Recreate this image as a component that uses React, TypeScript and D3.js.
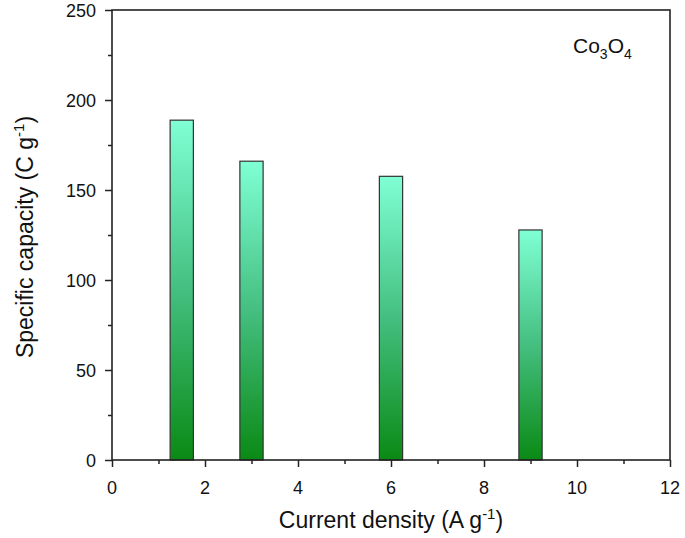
import { useEffect, useRef } from "react";
import * as d3 from "d3";

// current density (A g^-1) and specific capacity (C g^-1)
const densities = [1.5, 3, 6, 9];
const capacities = [188.8, 166, 157.6, 127.8];
const xTicks = [0, 2, 4, 6, 8, 10, 12];
const yTicks = [0, 50, 100, 150, 200, 250];

export default function App() {
  const ref = useRef<SVGSVGElement>(null);

  useEffect(() => {
    const svg = d3.select(ref.current);
    svg.selectAll("*").remove();

    const W = 685, H = 538;
    const m = { left: 112, right: 15, top: 10, bottom: 78 };
    const w = W - m.left - m.right;
    const h = H - m.top - m.bottom;
    const font = "Liberation Sans, Arial, sans-serif";

    const x = d3.scaleLinear().domain([0, 12]).range([0, w]);
    const y = d3.scaleLinear().domain([0, 250]).range([h, 0]);

    const defs = svg.append("defs");
    const grad = defs.append("linearGradient")
      .attr("id", "barGrad")
      .attr("x1", 0).attr("y1", 1).attr("x2", 0).attr("y2", 0);
    grad.append("stop").attr("offset", "0%").attr("stop-color", "#0a8a14");
    grad.append("stop").attr("offset", "50%").attr("stop-color", "#44bf80");
    grad.append("stop").attr("offset", "100%").attr("stop-color", "#7fffd4");

    const g = svg.append("g").attr("transform", `translate(${m.left},${m.top})`);

    // bars
    const barW = x(0.5) - x(0);
    g.selectAll("rect.bar")
      .data(densities)
      .join("rect")
      .attr("class", "bar")
      .attr("x", (d) => x(d) - barW / 2)
      .attr("y", (d, i) => y(capacities[i]))
      .attr("width", barW)
      .attr("height", (d, i) => h - y(capacities[i]))
      .attr("fill", "url(#barGrad)")
      .attr("stroke", "#333")
      .attr("stroke-width", 1.2);

    // frame
    g.append("rect")
      .attr("x", 0).attr("y", 0).attr("width", w).attr("height", h)
      .attr("fill", "none").attr("stroke", "#222").attr("stroke-width", 1.6);

    // x axis
    const xAxis = g.append("g").attr("transform", `translate(0,${h})`);
    xAxis.call(
      d3.axisBottom(x).tickValues(d3.range(0, 13, 1)).tickSize(0).tickFormat(() => "")
    );
    xAxis.select(".domain").remove();
    xAxis.selectAll(".tick line")
      .attr("y2", (d: any) => (d % 2 === 0 ? 7 : 4))
      .attr("stroke", "#222").attr("stroke-width", 1.5);
    xAxis.selectAll(".tick text").remove();
    xAxis.selectAll("text.lbl")
      .data(xTicks)
      .join("text")
      .attr("class", "lbl")
      .attr("x", (d) => x(d))
      .attr("y", 34)
      .attr("text-anchor", "middle")
      .attr("font-family", font)
      .attr("font-size", 18)
      .attr("fill", "#111")
      .text((d) => d);

    // y axis
    const yAxis = g.append("g");
    yAxis.call(
      d3.axisLeft(y).tickValues(d3.range(0, 251, 25)).tickSize(0).tickFormat(() => "")
    );
    yAxis.select(".domain").remove();
    yAxis.selectAll(".tick line")
      .attr("x2", (d: any) => (d % 50 === 0 ? -7 : -4))
      .attr("stroke", "#222").attr("stroke-width", 1.5);
    yAxis.selectAll(".tick text").remove();
    yAxis.selectAll("text.lbl")
      .data(yTicks)
      .join("text")
      .attr("class", "lbl")
      .attr("x", -16)
      .attr("y", (d) => y(d) + 6.5)
      .attr("text-anchor", "end")
      .attr("font-family", font)
      .attr("font-size", 18)
      .attr("fill", "#111")
      .text((d) => d);

    // axis titles
    const xt = svg.append("text")
      .attr("x", 391)
      .attr("y", 528)
      .attr("text-anchor", "middle")
      .attr("font-family", font)
      .attr("font-size", 23)
      .attr("fill", "#111");
    xt.append("tspan").text("Current density (A g");
    xt.append("tspan").attr("dy", -9).attr("font-size", 15).text("-1");
    xt.append("tspan").attr("dy", 9).text(")");

    const yt = svg.append("text")
      .attr("transform", `translate(33,${m.top + h / 2 + 2}) rotate(-90)`)
      .attr("text-anchor", "middle")
      .attr("font-family", font)
      .attr("font-size", 23)
      .attr("fill", "#111");
    yt.append("tspan").text("Specific capacity (C g");
    yt.append("tspan").attr("dy", -9).attr("font-size", 15).text("-1");
    yt.append("tspan").attr("dy", 9).text(")");

    // sample label
    const lab = g.append("text")
      .attr("x", 461)
      .attr("y", 43)
      .attr("font-family", font)
      .attr("font-size", 21)
      .attr("fill", "#111");
    lab.append("tspan").text("Co");
    lab.append("tspan").attr("dy", 6).attr("font-size", 14).text("3");
    lab.append("tspan").attr("dy", -6).text("O");
    lab.append("tspan").attr("dy", 6).attr("font-size", 14).text("4");
  }, []);

  return (
    <svg
      ref={ref}
      width={685}
      height={538}
      style={{ position: "absolute", left: 0, top: 0, display: "block" }}
    />
  );
}
